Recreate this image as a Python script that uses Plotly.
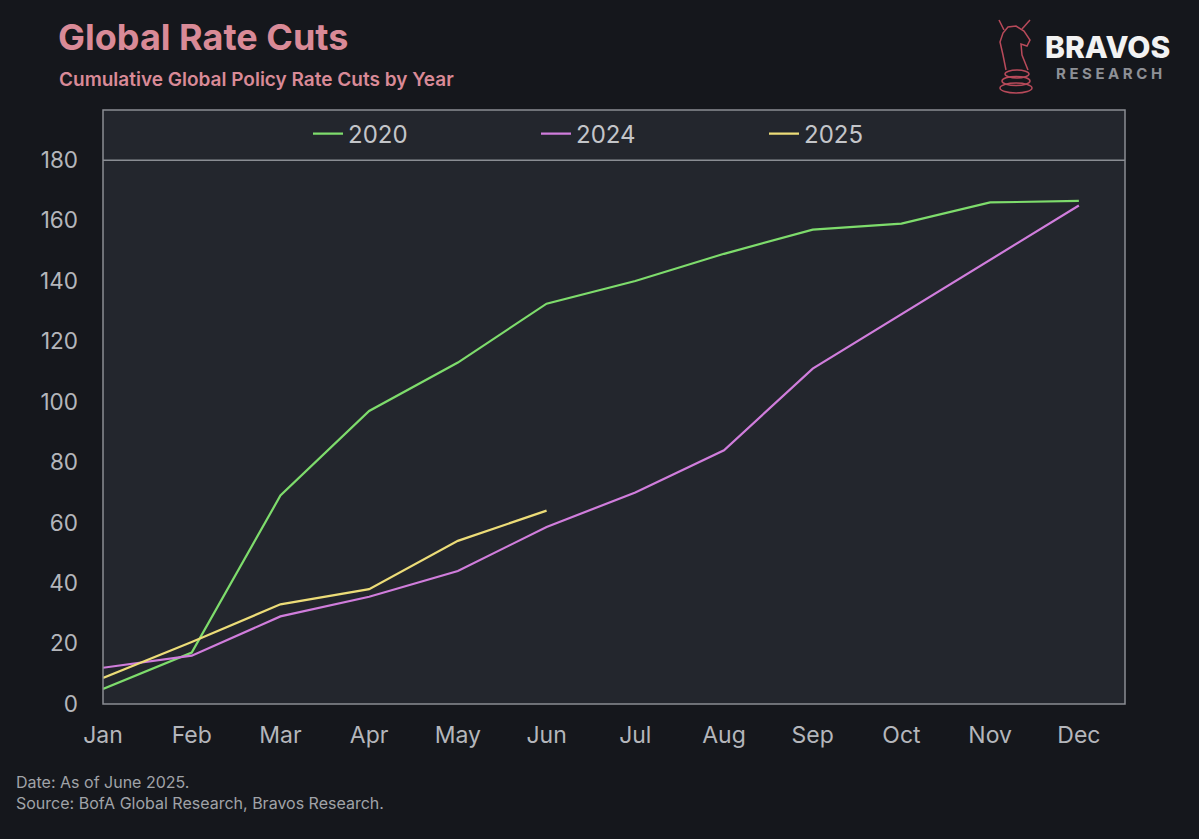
import plotly.graph_objects as go

months = ["Jan", "Feb", "Mar", "Apr", "May", "Jun", "Jul", "Aug", "Sep", "Oct", "Nov", "Dec"]
month_idx = list(range(12))

cuts_2020 = [5, 17, 69, 97, 113, 132.5, 140, 149, 157, 159, 166, 166.5]
cuts_2024 = [12, 16, 29, 35.5, 44, 58.6, 70, 84, 111, 129, 147, 165]
cuts_2025 = [8.6, 20.5, 33, 38, 54, 64]

y_ticks = [0, 20, 40, 60, 80, 100, 120, 140, 160, 180]

BG = "#15171c"
PLOT_BG = "#23262d"
BORDER = "#8a8d93"
TICK = "#b4b6bb"
PINK = "#d98a97"

# pixel -> paper helpers (plot area: x 103..1125, y 110..704)
L, R, T, B = 103, 1125, 110, 704
def px(x):
    return (x - L) / (R - L)
def py(y):
    return (B - y) / (B - T)

fig = go.Figure()
fig.add_trace(go.Scatter(x=month_idx, y=cuts_2020, mode="lines", name="2020",
                         line=dict(color="#7edc6c", width=2.2)))
fig.add_trace(go.Scatter(x=month_idx, y=cuts_2024, mode="lines", name="2024",
                         line=dict(color="#d07ddc", width=2.2)))
fig.add_trace(go.Scatter(x=month_idx[:len(cuts_2025)], y=cuts_2025, mode="lines", name="2025",
                         line=dict(color="#ecdc78", width=2.2)))

shapes = [
    dict(type="rect", xref="paper", yref="paper", x0=0, x1=1, y0=0, y1=1,
         line=dict(color=BORDER, width=1.5), layer="above"),
    dict(type="line", xref="paper", yref="y", x0=0, x1=1, y0=180, y1=180,
         line=dict(color=BORDER, width=1.5), layer="above"),
]

# simple stylised logo icon (outline)
logo_col = "#b84a5a"
for (cx, cy, rx, ry) in [(1016, 88, 16, 5), (1016, 81, 14, 4.5), (1017, 74, 12, 4)]:
    shapes.append(dict(type="circle", xref="paper", yref="paper",
                       x0=px(cx - rx), x1=px(cx + rx), y0=py(cy + ry), y1=py(cy - ry),
                       line=dict(color=logo_col, width=1.5), layer="above"))
pts = [(1006, 70), (1003, 55), (1000, 42), (1003, 33), (1008, 27), (1016, 26), (1024, 31),
       (1030, 40), (1027, 46), (1021, 44), (1022, 55), (1028, 70)]
path = "M " + " L ".join(f"{px(x)},{py(y)}" for x, y in pts)
shapes.append(dict(type="path", xref="paper", yref="paper", path=path,
                   line=dict(color=logo_col, width=1.5), layer="above"))
for hx in [(1004, 30, 999, 20), (1022, 29, 1030, 20)]:
    shapes.append(dict(type="line", xref="paper", yref="paper",
                       x0=px(hx[0]), y0=py(hx[1]), x1=px(hx[2]), y1=py(hx[3]),
                       line=dict(color=logo_col, width=1.5), layer="above"))

annotations = [
    dict(text="Global Rate Cuts", xref="paper", yref="paper", x=px(56), y=py(37),
         xanchor="left", yanchor="middle", showarrow=False,
         font=dict(family="Inter", size=36, color=PINK, weight=700)),
    dict(text="Cumulative Global Policy Rate Cuts by Year", xref="paper", yref="paper",
         x=px(57), y=py(79), xanchor="left", yanchor="middle", showarrow=False,
         font=dict(family="Inter", size=19, color=PINK, weight=600)),
    dict(text="Date: As of June 2025.<br>Source: BofA Global Research, Bravos Research.",
         xref="paper", yref="paper", x=px(14), y=py(792), xanchor="left", yanchor="middle",
         align="left", showarrow=False,
         font=dict(family="Inter", size=16, color="#a0a3a8")),
    dict(text="BRAVOS", xref="paper", yref="paper", x=px(1043), y=py(47),
         xanchor="left", yanchor="middle", showarrow=False,
         font=dict(family="Inter", size=30, color="#f2f2f2", weight=800)),
    dict(text="R E S E A R C H", xref="paper", yref="paper", x=px(1054), y=py(73),
         xanchor="left", yanchor="middle", showarrow=False,
         font=dict(family="Inter", size=15, color="#8d9096", weight=700)),
]

fig.update_layout(
    width=1199, height=839,
    paper_bgcolor=BG, plot_bgcolor=PLOT_BG,
    margin=dict(l=L, r=1199 - R, t=T, b=839 - B, pad=0),
    showlegend=True,
    legend=dict(orientation="h", x=px(308), y=py(134), xanchor="left", yanchor="middle",
                bgcolor="rgba(0,0,0,0)", font=dict(family="Inter", size=24, color="#c3c5c9"),
                entrywidth=183, entrywidthmode="pixels", itemwidth=30),
    xaxis=dict(range=[0, 11.52], tickvals=month_idx, ticktext=months, showgrid=False,
               zeroline=False, showline=False, ticks="", ticklabelstandoff=15,
               tickfont=dict(family="Inter", size=23, color=TICK), fixedrange=True),
    yaxis=dict(range=[0, 196.6], tickvals=y_ticks, showgrid=False, zeroline=False,
               showline=False, ticks="", ticklabelstandoff=24,
               tickfont=dict(family="Inter", size=22.5, color=TICK), fixedrange=True),
    shapes=shapes,
    annotations=annotations,
)

fig.write_html("out.html", config={"displayModeBar": False},
               post_script="document.body.style.margin='0';document.body.style.background='#15171c';")
